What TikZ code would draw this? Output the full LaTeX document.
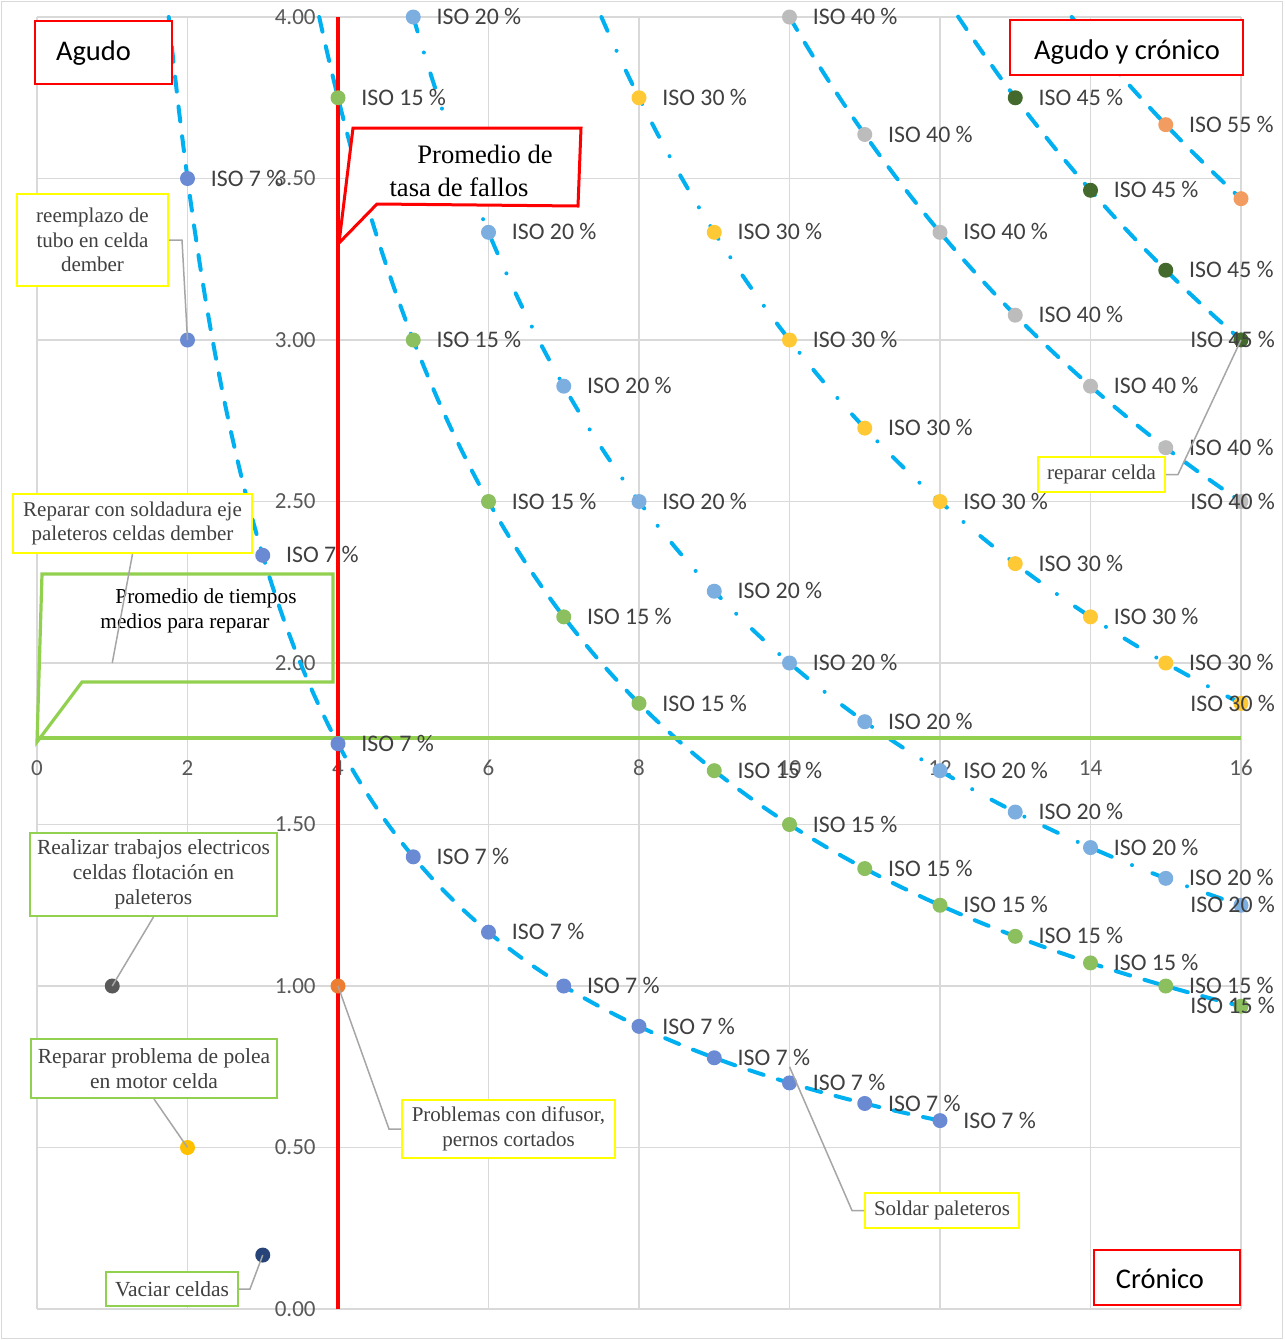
\documentclass[tikz,border=0pt]{standalone}
\usepackage{fontspec}
\setmainfont{Liberation Serif}
\newfontfamily\chartsans{Carlito}

\definecolor{gridgray}{HTML}{D9D9D9}
\definecolor{tickgray}{HTML}{595959}
\definecolor{labgray}{HTML}{404040}
\definecolor{trendcyan}{HTML}{00B0F0}
\definecolor{avggreen}{HTML}{92D050}
\definecolor{boxyellow}{HTML}{FFFF00}
\definecolor{leadergray}{HTML}{A6A6A6}
\definecolor{cSeven}{HTML}{6A8BD4}
\definecolor{cFifteen}{HTML}{8CBF5E}
\definecolor{cTwenty}{HTML}{7DAEE0}
\definecolor{cThirty}{HTML}{FFC936}
\definecolor{cForty}{HTML}{BCBCBC}
\definecolor{cFortyFive}{HTML}{436A2C}
\definecolor{cFiftyFive}{HTML}{F29C62}
\definecolor{cDark}{HTML}{595959}
\definecolor{cGold}{HTML}{FFC000}
\definecolor{cNavy}{HTML}{264478}
\definecolor{cOrange}{HTML}{ED7D31}

\tikzset{
  gridline/.style={gridgray, line width=0.9pt},
  trend/.style={trendcyan, line width=2pt, line cap=round,
    dash pattern=on 7.5pt off 7.5pt},
  trenddot/.style={trendcyan, line width=2pt, line cap=round,
    dash pattern=on 7.5pt off 11pt on 0pt off 11pt},
  dot/.style={circle, inner sep=0pt, minimum size=7.5pt, draw=none},
  isolab/.style={font=\chartsans\fontsize{11.9}{13}\selectfont, text=labgray,
    inner sep=0pt, anchor=west, text height=7.65pt, text depth=0pt},
  isoright/.style={isolab, xshift=11.5pt},
  isoedge/.style={isolab, xshift=-25.5pt},
  ticklab/.style={font=\chartsans\fontsize{11.5}{13}\selectfont, text=tickgray,
    inner sep=0pt, text height=7.3pt, text depth=0pt},
  notebox/.style={draw=boxyellow, line width=1pt, fill=white, text=labgray,
    align=center, inner sep=0pt, font=\fontsize{10.5}{12.4}\selectfont},
  greenbox/.style={notebox, draw=avggreen, font=\fontsize{10.75}{12.5}\selectfont},
  zonebox/.style={draw=red, line width=1pt, fill=white, inner sep=0pt},
  zonelab/.style={font=\chartsans\fontsize{14.25}{16}\selectfont, inner sep=0pt,
    text height=9.2pt, text depth=0pt},
  calltext/.style={inner sep=0pt, anchor=base},
  leader/.style={leadergray, line width=0.75pt},
}

\begin{document}
\begin{tikzpicture}[x=0.5pt, y=-0.5pt]
  \useasboundingbox (0,0) rectangle (1285,1340);
  \fill[white] (0,0) rectangle (1285,1340);
  \draw[gridgray, line width=0.7pt] (1.5,1.5) rectangle (1282.5,1338.5);

  % ---------- chart in data coordinates ----------
  \begin{scope}[shift={(18.5pt,-654.5pt)}, x=37.625pt, y=161.5pt]
    \draw[gridline] (0,0) grid[xstep=2, ystep=0.5] (16,4);

    % axis labels
    \foreach \v/\t [count=\n] in {0/0.00, 0.5/0.50, 1/1.00, 1.5/1.50, 2/2.00,
        2.5/2.50, 3/3.00, 3.5/3.50, 4/4.00}
      \node[ticklab, anchor=east, xshift=-11pt] (yt\n) at (4,\v) {\t};
    \foreach \i in {0,2,...,16}
      \node[ticklab, anchor=center, yshift=-15pt] (xt\i) at (\i,1.768) {\i};

    % iso-availability trend lines
    \draw[trend]    plot[domain=1.75:12,  samples=150] (\x,{7/\x});
    \draw[trend]    plot[domain=3.75:16,  samples=150] (\x,{15/\x});
    \draw[trenddot] plot[domain=5:16,     samples=150] (\x,{20/\x});
    \draw[trenddot] plot[domain=7.5:16,   samples=120] (\x,{30/\x});
    \draw[trend]    plot[domain=10:16,    samples=80]  (\x,{40/\x});
    \draw[trend]    plot[domain=12.24:16, samples=60]  (\x,{3.75*(\x/13)^(-1.075)});
    \draw[trend]    plot[domain=13.75:16, samples=60]  (\x,{55/\x});

    % average lines: failure rate (vertical) and repair time (horizontal)
    \coordinate (mtbfBottom) at (4,0);
    \coordinate (mtbfTop) at (4,4);
    \coordinate (mttrLeft) at (0,1.768);
    \coordinate (mttrRight) at (16,1.768);
    \draw[red, line width=2.4pt] (mtbfBottom) -- (mtbfTop);
    \draw[avggreen, line width=2.4pt] (mttrLeft) -- (mttrRight);

    % data points
    \foreach \i in {2,...,12}  \node[dot, fill=cSeven]      (a\i) at (\i,{7/\i}) {};
    \foreach \i in {4,...,16}  \node[dot, fill=cFifteen]    (b\i) at (\i,{15/\i}) {};
    \foreach \i in {5,...,16}  \node[dot, fill=cTwenty]     (c\i) at (\i,{20/\i}) {};
    \foreach \i in {8,...,16}  \node[dot, fill=cThirty]     (d\i) at (\i,{30/\i}) {};
    \foreach \i in {10,...,16} \node[dot, fill=cForty]      (e\i) at (\i,{40/\i}) {};
    \foreach \i in {13,...,16} \node[dot, fill=cFortyFive]  (f\i) at (\i,{3.75*(\i/13)^(-1.075)}) {};
    \foreach \i in {15,16}     \node[dot, fill=cFiftyFive]  (g\i) at (\i,{55/\i}) {};

    \node[dot, fill=cSeven]  (tubePt)    at (2,3) {};
    \node[dot, fill=cDark]   (elecPt)    at (1,1) {};
    \node[dot, fill=cGold]   (poleaPt)   at (2,0.5) {};
    \node[dot, fill=cNavy]   (vaciarPt)  at (3,0.167) {};
    \node[dot, fill=cOrange] (difusorPt) at (4,1) {};
    \coordinate (weldEnd) at (1,2);
    \coordinate (soldarEnd) at (10,0.75);

    % point labels
    \foreach \i in {2,...,12}  \node[isoright] (la\i) at (a\i) {ISO 7 \%};
    \foreach \i in {4,...,15}  \node[isoright] (lb\i) at (b\i) {ISO 15 \%};
    \foreach \i in {5,...,15}  \node[isoright] (lc\i) at (c\i) {ISO 20 \%};
    \foreach \i in {8,...,15}  \node[isoright] (ld\i) at (d\i) {ISO 30 \%};
    \foreach \i in {10,...,15} \node[isoright] (le\i) at (e\i) {ISO 40 \%};
    \foreach \i in {13,...,15} \node[isoright] (lf\i) at (f\i) {ISO 45 \%};
    \node[isoright] (lg15) at (g15) {ISO 55 \%};
    \node[isoedge] (lb16) at (b16) {ISO 15 \%};
    \node[isoedge] (lc16) at (c16) {ISO 20 \%};
    \node[isoedge] (ld16) at (d16) {ISO 30 \%};
    \node[isoedge] (le16) at (e16) {ISO 40 \%};
    \node[isoedge] (lf16) at (f16) {ISO 45 \%};
  \end{scope}

  % ---------- zone boxes ----------
  \node[zonebox, minimum width=68.5pt, minimum height=31.5pt] (agudoBox) at (103.5,52.5) {};
  \node[zonelab] (agudoText) at (93.5,51) {Agudo};
  \node[zonebox, minimum width=116.5pt, minimum height=27.5pt] (mixBox) at (1126.5,47.5) {};
  \node[zonelab] (mixText) at (1127,50) {Agudo y crónico};
  \node[zonebox, minimum width=73pt, minimum height=27.5pt] (cronBox) at (1167,1277.5) {};
  \node[zonelab] (cronText) at (1160,1279) {Crónico};

  % ---------- average callouts ----------
  \coordinate (mtbfTip) at (339,243);
  \draw[red, line width=1.5pt, fill=white, line join=miter]
    (353,128) -- (581,128) -- (578,206) -- (377,204) -- (mtbfTip) -- cycle;
  \node[calltext, font=\fontsize{13.3}{16}\selectfont] (mtbfL1) at (485,163) {Promedio de};
  \node[calltext, font=\fontsize{13.3}{16}\selectfont] (mtbfL2) at (459,196) {tasa de fallos};

  \coordinate (mttrTip) at (37,742);
  \draw[avggreen, line width=1.6pt, line join=miter]
    (42,574) -- (333,574) -- (333,682) -- (82,682) -- (mttrTip) -- cycle;
  \node[calltext, font=\fontsize{10.65}{13}\selectfont] (mttrL1) at (206,603) {Promedio de tiempos};
  \node[calltext, font=\fontsize{10.65}{13}\selectfont] (mttrL2) at (185,628) {medios para reparar};

  % ---------- failure notes ----------
  \node[notebox, minimum width=75.5pt, minimum height=46pt,
        font=\fontsize{10.5}{12.25}\selectfont] (tubeNote) at (92.5,240)
        {reemplazo de\\tubo en celda\\dember};
  \node[notebox, minimum width=119.5pt, minimum height=29.5pt] (weldNote) at (132.5,523.5)
        {Reparar con soldadura eje\\paleteros celdas dember};
  \node[greenbox, minimum width=123.5pt, minimum height=41.5pt] (elecNote) at (153.5,874.5)
        {Realizar trabajos electricos\\celdas flotación en\\paleteros};
  \node[greenbox, minimum width=123pt, minimum height=29.5pt] (poleaNote) at (154,1068.5)
        {Reparar problema de polea\\en motor celda};
  \node[greenbox, minimum width=66pt, minimum height=17pt] (vaciarNote) at (172,1289)
        {Vaciar celdas};
  \node[notebox, minimum width=106.5pt, minimum height=29pt] (difusorNote) at (508.5,1129)
        {Problemas con difusor,\\pernos cortados};
  \node[notebox, minimum width=77pt, minimum height=17.5pt] (soldarNote) at (942,1210.5)
        {Soldar paleteros};
  \node[notebox, minimum width=63.5pt, minimum height=17.5pt] (celdaNote) at (1101.5,474.5)
        {reparar celda};

  % leader lines
  \draw[leader] (tubeNote.east) -- ++(13,0) -- (tubePt.center);
  \draw[leader] (weldNote.south) -- (weldEnd);
  \draw[leader] (elecNote.south) -- (elecPt.center);
  \draw[leader] (poleaNote.south) -- (poleaPt.center);
  \draw[leader] (vaciarNote.east) -- ++(11,0) -- (vaciarPt.center);
  \draw[leader] (difusorNote.west) -- ++(-12,0) -- (difusorPt.center);
  \draw[leader] (soldarNote.west) -- ++(-12,0) -- (soldarEnd);
  \draw[leader] (celdaNote.east) -- ++(12,0) -- (f16.center);
\end{tikzpicture}
\end{document}
